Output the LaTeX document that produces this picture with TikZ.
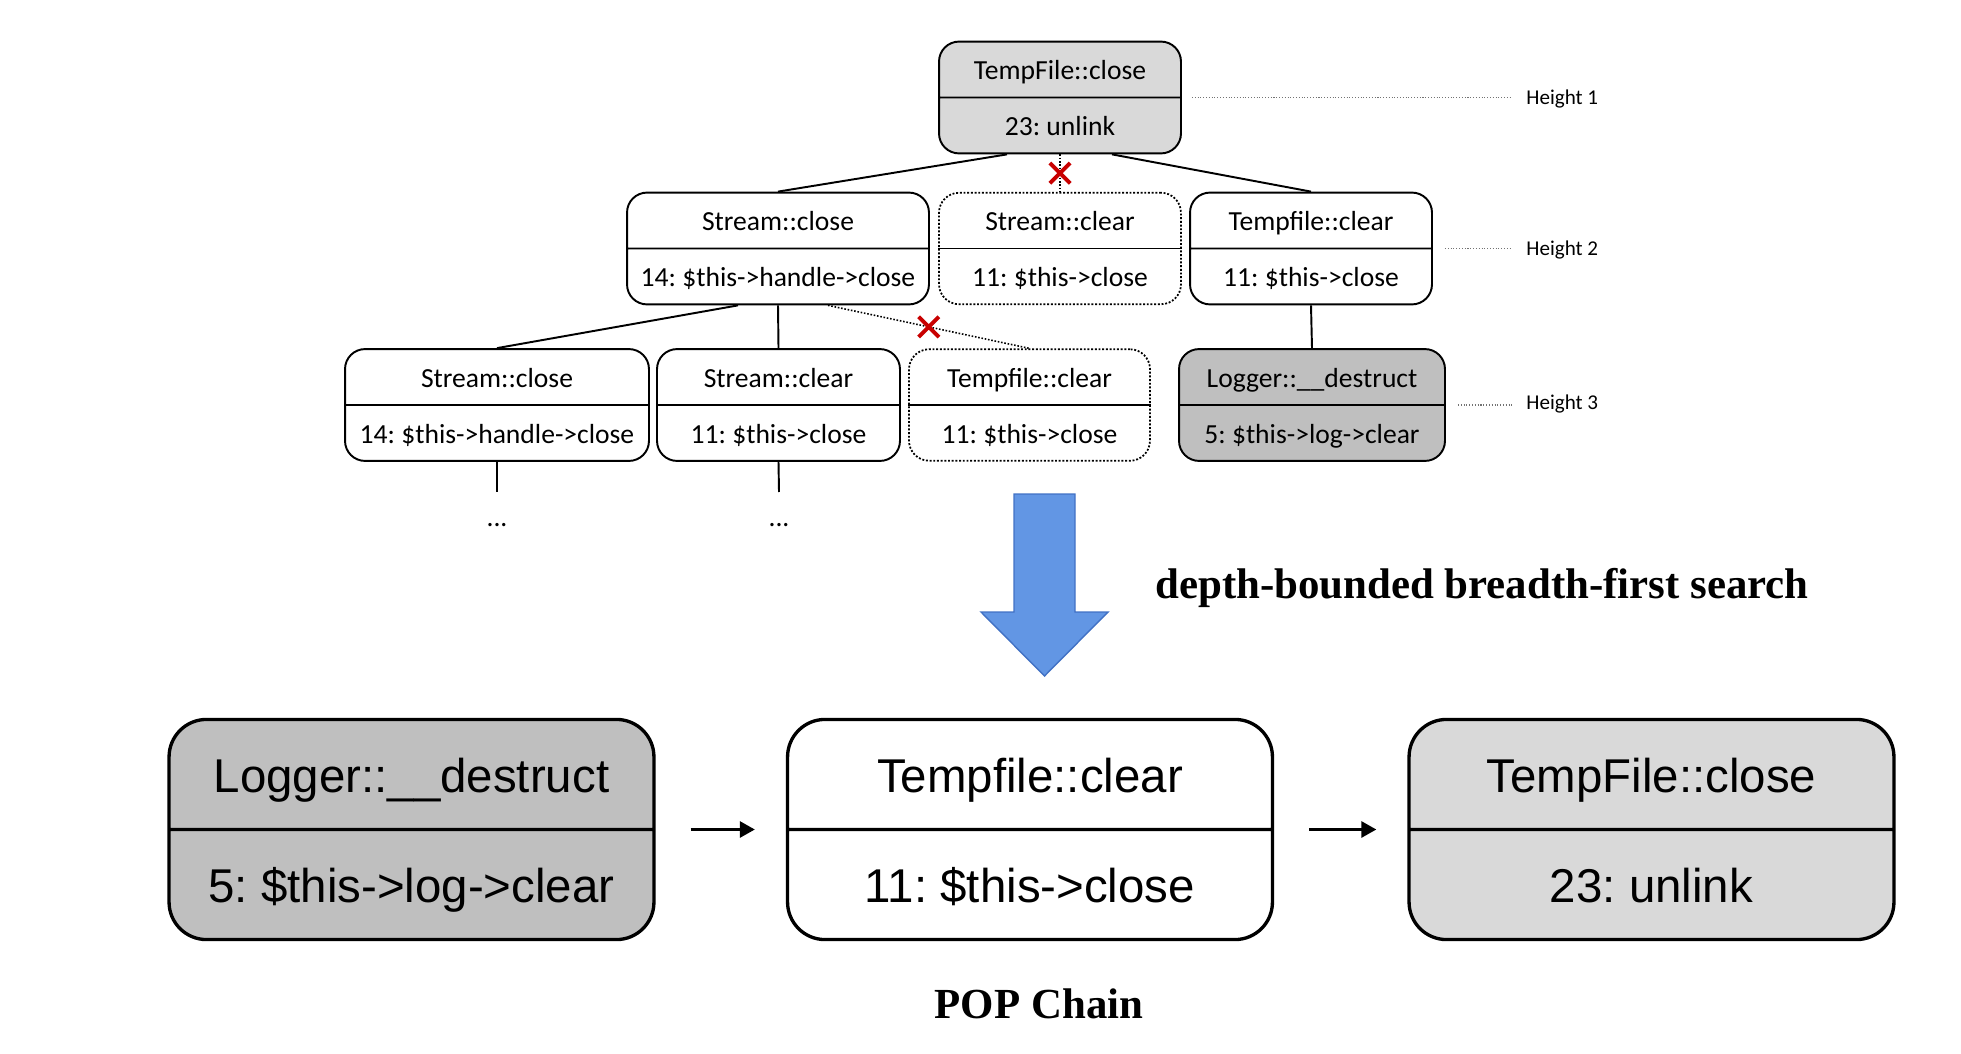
\documentclass[tikz,border=0pt]{standalone}
\usepackage{fontspec}
\setmainfont{Liberation Serif}
\newfontfamily\calibrifont{Carlito}
\newfontfamily\arialfont{Liberation Sans}
\usepackage{tikz}
\usetikzlibrary{arrows.meta, positioning, shapes.multipart, shapes.misc, calc}
\definecolor{lightgrey}{HTML}{D9D9D9}
\definecolor{midgrey}{HTML}{BFBFBF}
\definecolor{cutred}{HTML}{C80000}
\definecolor{arrowblue}{RGB}{98,150,228}
\definecolor{arrowedge}{RGB}{65,113,196}
\frenchspacing
% both halves of a call box get the same height
\newcommand{\partstrut}{\rule[-0.25em]{0pt}{1.25em}}
\newcommand{\twopart}[2]{\partstrut#1\nodepart{two}\partstrut#2}

\begin{document}
\begin{tikzpicture}[
        x=0.02cm, y=-0.02cm,
        >=Stealth,
        fnbox/.style={rectangle split, rectangle split parts=2, draw, line width=1.1pt, rounded corners=0.4cm, font=\calibrifont\fontsize{15.7}{19}\selectfont, inner ysep=5.55pt, inner xsep=0pt, minimum width=4.84cm},
        prunedbox/.style={fnbox, densely dotted, line width=1pt, rectangle split draw splits=false},
        chainbox/.style={rectangle split, rectangle split parts=2, draw, line width=1.9pt, rounded corners=0.75cm, font=\arialfont\fontsize{27}{32}\selectfont, inner ysep=13.5pt, inner xsep=0pt, minimum width=9.7cm},
        edge/.style={line width=1.1pt},
        prunededge/.style={densely dotted, line width=0.9pt},
        cut/.style={cross out, draw=cutred, line width=2.2pt, minimum size=0.33cm, inner sep=0pt},
        heightlbl/.style={anchor=west, inner sep=0pt, font=\calibrifont\fontsize{12}{14}\selectfont},
        levelline/.style={densely dotted, line width=0.6pt, black!55},
        chainarrow/.style={line width=1.7pt, -{Triangle[length=8.5pt, width=9pt]}},
        caption/.style={font=\bfseries\fontsize{24.4}{28}\selectfont, inner sep=0pt}
    ]
    \useasboundingbox (0,0) rectangle (1961,1054);

    % --- Height 1 ---
    \node[fnbox, fill=lightgrey] (root) at (1060,97.5) {\twopart{TempFile::close}{23: unlink}};

    % --- Height 2 ---
    \node[fnbox, minimum width=6.04cm] (sclose) at (778,248.5) {\twopart{Stream::close}{14: \$this->handle->close}};
    \node[prunedbox] (sclear) at (1060,248.5) {\twopart{Stream::clear}{11: \$this->close}};
    \node[fnbox] (tfclear) at (1311,248.5) {\twopart{Tempfile::clear}{11: \$this->close}};
    \draw[line width=1.1pt] (sclear.text split west) -- (sclear.text split east);

    % --- Height 3 ---
    \node[fnbox, minimum width=6.08cm] (sclose2) at (497,405) {\twopart{Stream::close}{14: \$this->handle->close}};
    \node[fnbox, minimum width=4.86cm] (sclear2) at (778.5,405) {\twopart{Stream::clear}{11: \$this->close}};
    \node[prunedbox, minimum width=4.82cm] (tfclear2) at (1029.5,405) {\twopart{Tempfile::clear}{11: \$this->close}};
    \draw[line width=1.1pt] (tfclear2.text split west) -- (tfclear2.text split east);
    \node[fnbox, fill=midgrey, minimum width=5.32cm] (logger) at (1312,405) {\twopart{Logger::\_\_destruct}{5: \$this->log->clear}};

    % --- Tree edges ---
    \draw[edge] ($(root.south)+(-53,0)$) -- (sclose.north);
    \draw[edge] ($(root.south)+(52,0)$) -- (tfclear.north);
    \draw[prunededge] (root.south) -- (sclear.north);
    \draw[edge] ($(sclose.south)+(-40,0)$) -- (sclose2.north);
    \draw[edge] (sclose.south) -- (sclear2.north);
    \draw[prunededge] ($(sclose.south)+(50,0)$) -- (tfclear2.north);
    \draw[edge] (tfclear.south) -- (logger.north);
    \node[cut] (cut1) at ($(root.south)!0.5!(sclear.north)$) {};
    \node[cut] (cut2) at ($($(sclose.south)+(50,0)$)!0.5!(tfclear2.north)$) {};

    % --- Unexplored branches ---
    \coordinate (enda) at (497,492);
    \coordinate (endb) at (779,492);
    \draw[edge] (sclose2.south) -- (enda);
    \draw[edge] (sclear2.south) -- (endb);
    \node[anchor=base, inner sep=0pt, font=\calibrifont\fontsize{15.7}{19}\selectfont] (dotsa) at (497,526) {...};
    \node[anchor=base, inner sep=0pt, font=\calibrifont\fontsize{15.7}{19}\selectfont] (dotsb) at (779,526) {...};

    % --- Height labels ---
    \node[heightlbl] (h1) at (1526,99) {Height 1};
    \node[heightlbl] (h2) at (1526,250) {Height 2};
    \node[heightlbl] (h3) at (1526,404) {Height 3};
    \draw[levelline] ($(root.east)+(10,0)$) -- ($(root.east -| h1.west)+(-14,0)$);
    \draw[levelline] ($(tfclear.east)+(12,0)$) -- ($(tfclear.east -| h2.west)+(-14,0)$);
    \draw[levelline] ($(logger.east)+(12,0)$) -- ($(logger.east -| h3.west)+(-14,0)$);

    % --- Search arrow ---
    \draw[fill=arrowblue, draw=arrowedge, line width=0.8pt] (1014,494) -- (1075,494) -- (1075,612) -- (1108,612) -- (1044.5,676) -- (981,612) -- (1014,612) -- cycle;
    \node[caption, anchor=base west] (bfs) at (1155,598) {depth-bounded breadth-first search};

    % --- POP chain ---
    \node[chainbox, fill=midgrey] (poplogger) at (411.5,829.5) {\twopart{Logger::\_\_destruct}{5: \$this->log->clear}};
    \node[chainbox, fill=white] (popclear) at (1030,829.5) {\twopart{Tempfile::clear}{11: \$this->close}};
    \node[chainbox, fill=lightgrey] (popclose) at (1651.5,829.5) {\twopart{TempFile::close}{23: unlink}};
    \draw[chainarrow] ($(poplogger.east)+(35,0)$) -- ($(popclear.west)+(-31,0)$);
    \draw[chainarrow] ($(popclear.east)+(35,0)$) -- ($(popclose.west)+(-31,0)$);
    \node[caption, anchor=base] (popcaption) at (1039,1018) {POP Chain};
\end{tikzpicture}
\end{document}
